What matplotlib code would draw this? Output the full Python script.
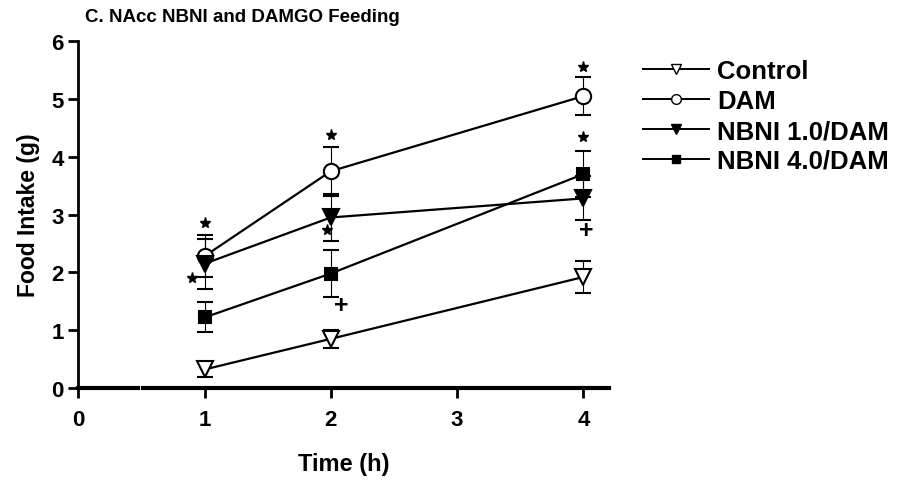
import matplotlib
matplotlib.use("Agg")
import matplotlib.pyplot as plt
from matplotlib.lines import Line2D

plt.rcParams['font.family'] = ['Liberation Sans', 'DejaVu Sans']
plt.rcParams['font.weight'] = 'bold'

# Time points (h)
hours = [1, 2, 4]

# Mean food intake (g) and SEM per group
control = [0.32, 0.85, 1.92]
control_err = [0.13, 0.16, 0.27]
dam = [2.28, 3.75, 5.05]
dam_err = [0.36, 0.42, 0.33]
nbni1 = [2.15, 2.95, 3.28]
nbni1_err = [0.43, 0.41, 0.38]
nbni4 = [1.22, 1.98, 3.70]
nbni4_err = [0.26, 0.40, 0.40]

# Significance marks: (x, y)
stars = [(1, 2.85), (2, 4.38), (4, 5.55), (0.9, 1.91), (1.97, 2.73), (4, 4.35)]
plusses = [(2.08, 1.43), (4.02, 2.73)]

fig = plt.figure(figsize=(8.99, 4.85), dpi=100)
ax = fig.add_axes([0.087, 0.198, 0.59, 0.715])

groups = [
    ('Control', control, control_err, 'v', 'white'),
    ('DAM', dam, dam_err, 'o', 'white'),
    ('NBNI 1.0/DAM', nbni1, nbni1_err, 'v', 'black'),
    ('NBNI 4.0/DAM', nbni4, nbni4_err, 's', 'black'),
]
handles = []
for label, vals, errs, mk, fc in groups:
    ax.errorbar(hours, vals, yerr=errs, color='black', lw=1.6,
                marker=mk, markersize=11 if mk != 's' else 9,
                markerfacecolor=fc, markeredgecolor='black', markeredgewidth=1.5,
                elinewidth=0.8, capsize=6, capthick=1.6)
    handles.append(Line2D([], [], color='black', lw=1.4, marker=mk,
                          markersize=7 if mk != 's' else 6,
                          markerfacecolor=fc, markeredgecolor='black',
                          markeredgewidth=1.0, label=label))

# significance symbols
sx, sy = zip(*stars)
ax.plot(sx, sy, linestyle='none', marker='*', markersize=8, color='black')
for x, y in plusses:
    ax.text(x, y, '+', ha='center', va='center', fontsize=18, fontweight='bold')

ax.set_xlim(0, 4.2)
ax.set_ylim(0, 6)
ax.set_xticks([0, 1, 2, 3, 4])
ax.set_yticks(range(7))
ax.tick_params(labelsize=16, width=2, length=7)
ax.tick_params(axis='x', pad=8)
for lbl in ax.get_xticklabels() + ax.get_yticklabels():
    lbl.set_fontweight('bold')

ax.spines['top'].set_visible(False)
ax.spines['right'].set_visible(False)
ax.spines['left'].set_linewidth(2)
ax.spines['bottom'].set_visible(False)
# broken x axis line
ax.plot([0, 0.47], [0, 0], color='black', lw=3, clip_on=False,
        transform=ax.get_xaxis_transform())
ax.plot([0.51, 4.2], [0, 0], color='black', lw=3, clip_on=False,
        transform=ax.get_xaxis_transform())

ax.set_xlabel('Time (h)', fontsize=17, fontweight='bold', labelpad=16)
ax.set_ylabel('Food Intake (g)', fontsize=16.5, fontweight='bold', labelpad=8)
fig.text(0.095, 0.963, 'C. NAcc NBNI and DAMGO Feeding', fontsize=13.5,
         fontweight='bold', ha='left', va='center')

leg = ax.legend(handles=handles, loc='upper left', bbox_to_anchor=(1.03, 1.0),
                frameon=False, prop={'size': 18.5, 'weight': 'bold'},
                handlelength=2.6, handletextpad=0.3,
                labelspacing=0.23, borderaxespad=0.3)

fig.savefig('out.png', dpi=100)
